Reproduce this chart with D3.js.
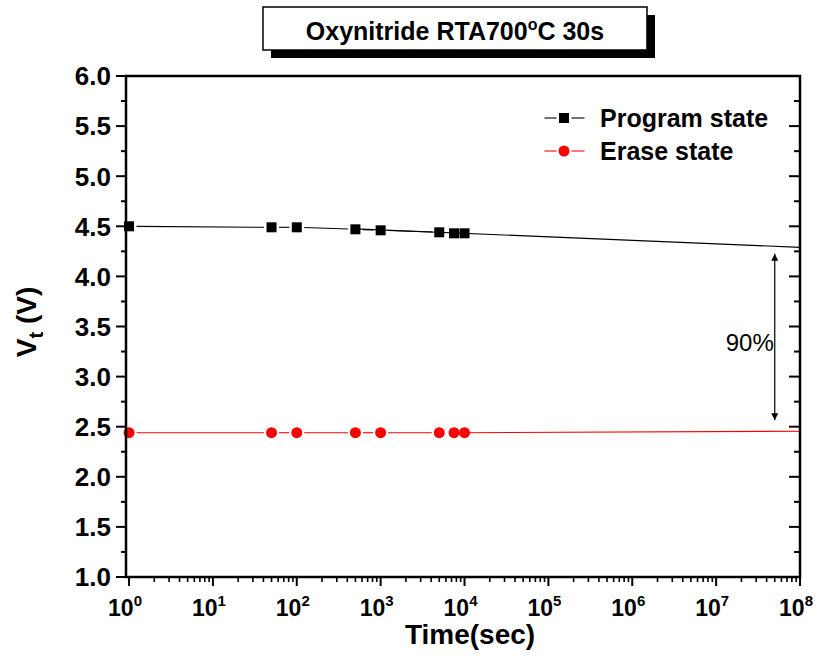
<!DOCTYPE html>
<html>
<head>
<meta charset="utf-8">
<script src="https://cdn.jsdelivr.net/npm/d3@7"></script>
<style>
  html, body { margin: 0; padding: 0; background: #fff; }
  svg { display: block; }
  text { font-family: "Liberation Sans", Arial, sans-serif; }
</style>
</head>
<body>
<svg id="chart" width="822" height="658"></svg>
<script>
// Retention data: threshold voltage versus retention time
const times = [1, 50, 100, 500, 1000, 5000, 7500, 10000];
const programVt = [4.50, 4.49, 4.49, 4.47, 4.46, 4.44, 4.43, 4.43];
const eraseVt = [2.44, 2.44, 2.44, 2.44, 2.44, 2.44, 2.44, 2.44];

// Extrapolated retention trend lines out to 10^8 s
const programFitTimes = [500, 1e8];
const programFitVt = [4.475, 4.29];
const eraseFitTimes = [1e4, 1e8];
const eraseFitVt = [2.44, 2.455];

// Memory window annotation
const windowTime = 5e7;
const windowVt = [4.225, 2.565];
const windowLabel = "90%";

const yTicks = [1.0, 1.5, 2.0, 2.5, 3.0, 3.5, 4.0, 4.5, 5.0, 5.5, 6.0];
const xExponents = [0, 1, 2, 3, 4, 5, 6, 7, 8];
const seriesNames = ["Program state", "Erase state"];
const titleText = ["Oxynitride RTA700", "o", "C 30s"];

const svg = d3.select("#chart");
const plotLeft = 126, plotRight = 800, plotTop = 76, plotBottom = 577;

const x = d3.scaleLog().domain([0.92, 1e8]).range([plotLeft, plotRight]);
const y = d3.scaleLinear().domain([1, 6]).range([plotBottom, plotTop]);

// Connected line with gaps around markers
function gappedLine(g, pts, gap, color) {
  for (let i = 0; i < pts.length - 1; i++) {
    const [x1, y1] = pts[i], [x2, y2] = pts[i + 1];
    const dx = x2 - x1, dy = y2 - y1, len = Math.hypot(dx, dy);
    if (len <= 2 * gap + 1) continue;
    const ux = dx / len, uy = dy / len;
    g.append("line")
      .attr("x1", x1 + ux * gap).attr("y1", y1 + uy * gap)
      .attr("x2", x2 - ux * gap).attr("y2", y2 - uy * gap)
      .attr("stroke", color).attr("stroke-width", 1.1);
  }
}

const dataG = svg.append("g");

// Trend lines
const fitLine = d3.line().x(d => x(d[0])).y(d => y(d[1]));
dataG.append("path")
  .datum(d3.zip(programFitTimes, programFitVt))
  .attr("d", fitLine).attr("fill", "none").attr("stroke", "#000").attr("stroke-width", 1.2);
dataG.append("path")
  .datum(d3.zip(eraseFitTimes, eraseFitVt))
  .attr("d", fitLine).attr("fill", "none").attr("stroke", "#ff0000").attr("stroke-width", 1.1);

const progPts = times.map((t, i) => [x(t), y(programVt[i])]);
const erasePts = times.map((t, i) => [x(t), y(eraseVt[i])]);
gappedLine(dataG, progPts, 7.5, "#000");
gappedLine(dataG, erasePts, 7.5, "#ff0000");

// Markers
dataG.selectAll("rect.prog").data(progPts).join("rect")
  .attr("class", "prog")
  .attr("x", d => d[0] - 5).attr("y", d => d[1] - 5)
  .attr("width", 10).attr("height", 10).attr("fill", "#000");
dataG.selectAll("circle.erase").data(erasePts).join("circle")
  .attr("class", "erase")
  .attr("cx", d => d[0]).attr("cy", d => d[1]).attr("r", 5.5).attr("fill", "#ff0000");

// Frame
const axG = svg.append("g");
axG.append("rect")
  .attr("x", plotLeft).attr("y", plotTop).attr("width", plotRight - plotLeft).attr("height", plotBottom - plotTop)
  .attr("fill", "none").attr("stroke", "#000").attr("stroke-width", 2.5);

// Y axis ticks (outward on the left, inward on the right)
const yMinor = d3.range(1.25, 6, 0.5);
yTicks.forEach(v => {
  axG.append("line").attr("x1", plotLeft - 10).attr("x2", plotLeft).attr("y1", y(v)).attr("y2", y(v))
    .attr("stroke", "#000").attr("stroke-width", 2);
  axG.append("line").attr("x1", plotRight - 11).attr("x2", plotRight).attr("y1", y(v)).attr("y2", y(v))
    .attr("stroke", "#000").attr("stroke-width", 2);
});
yMinor.forEach(v => {
  axG.append("line").attr("x1", plotLeft - 5).attr("x2", plotLeft).attr("y1", y(v)).attr("y2", y(v))
    .attr("stroke", "#000").attr("stroke-width", 2);
  axG.append("line").attr("x1", plotRight - 6).attr("x2", plotRight).attr("y1", y(v)).attr("y2", y(v))
    .attr("stroke", "#000").attr("stroke-width", 2);
});
axG.selectAll("text.ylab").data(yTicks).join("text")
  .attr("class", "ylab")
  .attr("x", plotLeft - 15).attr("y", d => y(d)).attr("dy", "0.36em")
  .attr("text-anchor", "end").attr("font-weight", "bold").attr("font-size", 26)
  .text(d => d3.format(".1f")(d));

// X axis ticks (log decades with minor ticks)
xExponents.forEach(e => {
  const v = Math.pow(10, e);
  axG.append("line").attr("x1", x(v)).attr("x2", x(v)).attr("y1", plotBottom).attr("y2", plotBottom + 9)
    .attr("stroke", "#000").attr("stroke-width", 2);
  if (e < 8) {
    for (let m = 2; m <= 9; m++) {
      const mv = m * v;
      axG.append("line").attr("x1", x(mv)).attr("x2", x(mv)).attr("y1", plotBottom).attr("y2", plotBottom + 5)
        .attr("stroke", "#000").attr("stroke-width", 1.6);
    }
  }
  const t = axG.append("text")
    .attr("x", x(v) - 4).attr("y", plotBottom + 39)
    .attr("text-anchor", "middle").attr("font-weight", "bold").attr("font-size", 23);
  t.append("tspan").text("10");
  t.append("tspan").attr("dy", -10).attr("font-size", 15).text(String(e));
});

// Axis titles
svg.append("text")
  .attr("x", 470).attr("y", 644).attr("text-anchor", "middle")
  .attr("font-weight", "bold").attr("font-size", 28).text("Time(sec)");

const yt = svg.append("text")
  .attr("transform", "translate(36,322) rotate(-90)")
  .attr("text-anchor", "middle").attr("font-weight", "bold").attr("font-size", 28);
yt.append("tspan").text("V");
yt.append("tspan").attr("dy", 7).attr("font-size", 20).text("t");
yt.append("tspan").attr("dy", -7).text(" (V)");

// Title box with drop shadow
svg.append("rect").attr("x", 271).attr("y", 15).attr("width", 384).attr("height", 43).attr("fill", "#000");
svg.append("rect").attr("x", 263).attr("y", 7).attr("width", 384).attr("height", 43)
  .attr("fill", "#fff").attr("stroke", "#000").attr("stroke-width", 1.5);
const tt = svg.append("text").attr("x", 455).attr("y", 40).attr("text-anchor", "middle")
  .attr("font-weight", "bold").attr("font-size", 25);
tt.append("tspan").text(titleText[0]);
tt.append("tspan").attr("dy", -10).attr("font-size", 16).text(titleText[1]);
tt.append("tspan").attr("dy", 10).text(titleText[2]);

// Legend
const legY = [118, 151];
const legColors = ["#000", "#ff0000"];
seriesNames.forEach((name, i) => {
  const g = svg.append("g");
  const cy = legY[i];
  gappedLine(g, [[537, cy], [564, cy], [592, cy]], 7.5, legColors[i]);
  if (i === 0) {
    g.append("rect").attr("x", 559).attr("y", cy - 5).attr("width", 10).attr("height", 10).attr("fill", "#000");
  } else {
    g.append("circle").attr("cx", 564).attr("cy", cy).attr("r", 5.5).attr("fill", "#ff0000");
  }
  g.append("text").attr("x", 600).attr("y", cy + 9)
    .attr("font-weight", "bold").attr("font-size", 25).text(name);
});

// Memory window arrow
const defs = svg.append("defs");
defs.append("marker").attr("id", "ah").attr("viewBox", "0 0 10 10")
  .attr("refX", 10).attr("refY", 5).attr("markerWidth", 7).attr("markerHeight", 14)
  .attr("markerUnits", "userSpaceOnUse").attr("orient", "auto-start-reverse")
  .append("path").attr("d", "M0,0 L10,5 L0,10 Z").attr("fill", "#000");
svg.append("line")
  .attr("x1", x(windowTime)).attr("x2", x(windowTime))
  .attr("y1", y(windowVt[0])).attr("y2", y(windowVt[1]))
  .attr("stroke", "#000").attr("stroke-width", 1.2)
  .attr("marker-start", "url(#ah)").attr("marker-end", "url(#ah)");
svg.append("text")
  .attr("x", x(windowTime) - 1).attr("y", 351).attr("text-anchor", "end")
  .attr("font-size", 24).text(windowLabel);
</script>
</body>
</html>
